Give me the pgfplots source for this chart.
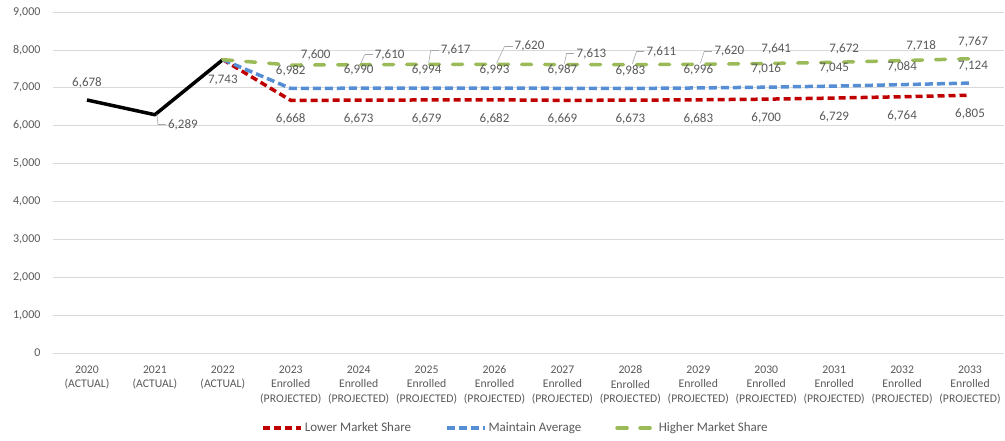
\documentclass[border=0pt]{standalone}
\usepackage{fontspec}
\setmainfont{Carlito}
\usepackage{pgfplots}
\pgfplotsset{compat=1.18}
\usetikzlibrary{calc}
\definecolor{txt}{HTML}{595959}
\definecolor{gridc}{HTML}{D9D9D9}
\definecolor{cred}{HTML}{C00000}
\definecolor{cblue}{HTML}{558ED5}
\definecolor{cgreen}{HTML}{9BBB59}
\definecolor{leadc}{HTML}{A6A6A6}
\tikzset{lead/.style={draw=leadc, line width=0.6pt}}
\pgfplotsset{
  lbl/.style={forget plot, draw=none, mark=none, nodes near coords, point meta=y,
    visualization depends on={value \thisrow{dx}\as\dx},
    visualization depends on={value \thisrow{dy}\as\dy},
    nodes near coords style={anchor=center, text=txt, font=\fontsize{13}{15}\selectfont,
      xshift=\dx pt, yshift=\dy pt, inner sep=0pt}},
  lbllead/.style={lbl,
    nodes near coords style={append after command={
      ($(\tikzlastnode.west)+(-2pt,0pt)$) edge[lead] ($(\tikzlastnode.west)+(-10pt,0pt)$)
      ($(\tikzlastnode.west)+(-10pt,0pt)$) edge[lead] ($(\tikzlastnode.center)+(-\dx pt+2pt,-\dy pt+1pt)$)
    }}},
}
\begin{document}
\begin{tikzpicture}
\useasboundingbox (-53pt,-87pt) rectangle (952pt,353pt);
\begin{axis}[
  at={(0pt,0pt)}, anchor=south west,
  scale only axis, width=951pt, height=341pt,
  xmin=-0.5, xmax=13.5, ymin=0, ymax=9000,
  axis line style={draw=none},
  major tick length=0pt,
  ytick={0,1000,...,9000},
  ymajorgrids, major grid style={draw=gridc, line width=0.8pt},
  xtick={0,...,13},
  xticklabels={{2020\\(ACTUAL)},{2021\\(ACTUAL)},{2022\\(ACTUAL)},
    {2023\\Enrolled\\(PROJECTED)},{2024\\Enrolled\\(PROJECTED)},{2025\\Enrolled\\(PROJECTED)},
    {2026\\Enrolled\\(PROJECTED)},{2027\\Enrolled\\(PROJECTED)},{2028\\Enrolled\\(PROJECTED)},
    {2029\\Enrolled\\(PROJECTED)},{2030\\Enrolled\\(PROJECTED)},{2031\\Enrolled\\(PROJECTED)},
    {2032\\Enrolled\\(PROJECTED)},{2033\\Enrolled\\(PROJECTED)}},
  /pgf/number format/1000 sep={,},
  /pgf/number format/assume math mode=true,
  ticklabel style={text=txt},
  yticklabel style={font=\fontsize{12}{14}\selectfont, xshift=-9pt},
  xticklabel style={font=\fontsize{11.7}{14.5}\selectfont, align=center, yshift=-9pt},
  legend columns=3,
  legend style={at={(0.5,-0.22)}, anchor=center, xshift=-13pt, draw=none, fill=none,
    font=\fontsize{13}{15}\selectfont, text=txt,
    /tikz/every even column/.append style={column sep=32pt}},
  legend image code/.code={\draw[#1] (0pt,0pt) -- (38pt,0pt);},
  clip=false,
]
% actual
\addplot[black, line width=3.5pt, line join=round, forget plot] coordinates {(0,6678) (1,6289) (2,7743)};
% projections
\addplot[cred, line width=3.5pt, dash pattern=on 7pt off 4pt] coordinates {
  (2,7743) (3,6668) (4,6673) (5,6679) (6,6682) (7,6669) (8,6673) (9,6683) (10,6700) (11,6729) (12,6764) (13,6805)};
\addlegendentry{Lower Market Share}
\addplot[cblue, line width=3.5pt, dash pattern=on 8pt off 4pt] coordinates {
  (2,7743) (3,6982) (4,6990) (5,6994) (6,6993) (7,6987) (8,6983) (9,6996) (10,7016) (11,7045) (12,7084) (13,7124)};
\addlegendentry{Maintain Average}
\addplot[cgreen, line width=3.5pt, line cap=round, dash pattern=on 10pt off 13pt] coordinates {
  (2,7743) (3,7600) (4,7610) (5,7617) (6,7620) (7,7613) (8,7611) (9,7620) (10,7641) (11,7672) (12,7718) (13,7767)};
\addlegendentry{Higher Market Share}
% labels
\addplot[lbl] table {
x y dx dy
0 6678 0 17
2 7743 0 -20
};
\addplot[lbllead] table {
x y dx dy
1 6289 28 -10
};
\addplot[lbl] table {
x y dx dy
3 6668 0 -19
4 6673 0 -19
5 6679 0 -19
6 6682 0 -19
7 6669 0 -19
8 6673 0 -19
9 6683 0 -19
10 6700 0 -19
11 6729 0 -19
12 6764 0 -19
13 6805 0 -19
};
\addplot[lbl] table {
x y dx dy
3 6982 0 18
4 6990 0 18
5 6994 0 18
6 6993 0 18
7 6987 0 18
8 6983 0 18
9 6996 0 18
10 7016 0 18
11 7045 0 18
12 7084 0 18
13 7124 3 17
};
\addplot[lbl] table {
x y dx dy
3 7600 25 10
10 7641 10 15
11 7672 10 13
12 7718 19 15
13 7767 3 17
};
\addplot[lbllead] table {
x y dx dy
4 7610 31 10
5 7617 29 14
6 7620 35 18
7 7613 29 11
8 7611 31 13
9 7620 31 13
};
\end{axis}
\end{tikzpicture}
\end{document}
